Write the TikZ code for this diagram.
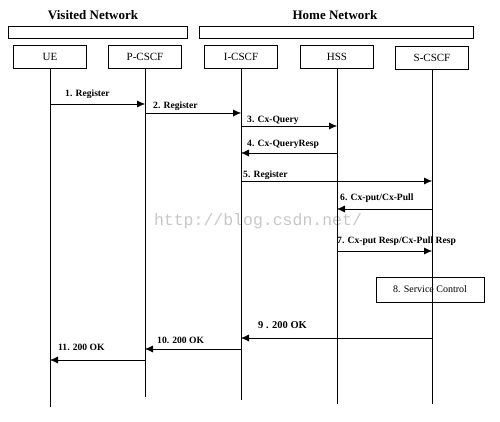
\documentclass[tikz,border=0pt]{standalone}
\usepackage{fontspec}
\setmainfont{Liberation Serif}
\setmonofont{Liberation Mono}
\usetikzlibrary{arrows.meta}
\tikzset{
  entity/.style={draw,thin,minimum width=73pt,minimum height=23pt,inner sep=0pt,font=\fontsize{11}{12}\selectfont},
  netbar/.style={draw,thin},
  life/.style={thin},
  msg/.style={thin,-{Latex[length=8pt,width=7pt]}},
  lbl/.style={anchor=west,inner sep=0pt,font=\bfseries\fontsize{9.6}{10}\selectfont}
}
\begin{document}
\begin{tikzpicture}[x=1pt,y=-1pt]
    \useasboundingbox (0,0) rectangle (500,421);

    % networks
    \node[font=\bfseries\fontsize{13}{14}\selectfont] (visited) at (93,15) {Visited Network};
    \node[font=\bfseries\fontsize{13}{14}\selectfont] (home) at (335,15) {Home Network};
    \draw[netbar] (8,26) rectangle (187,38);
    \draw[netbar] (199,26) rectangle (473,38);

    % entities
    \node[entity] (ue) at (50,56.5) {UE};
    \node[entity] (pcscf) at (145,56.5) {P-CSCF};
    \node[entity] (icscf) at (241,56.5) {I-CSCF};
    \node[entity] (hss) at (337,56.5) {HSS};
    \node[entity] (scscf) at (432,58) {S-CSCF};

%   \foreach \i in {0,...,420} {
%       \draw [very thin,gray] (0,\i) -- (500,\i) ;
%   }
    \node[font=\ttfamily\fontsize{16.5}{17}\selectfont,text=black!22] (wm) at (258,221) {http://blog.csdn.net/};

    % lifelines
    \foreach \e/\yEnd in {ue/407,pcscf/397,icscf/400,hss/404,scscf/404} {
        \draw [life] (\e.south) -- (\e.south |- 0,\yEnd) ;
        }

    \node[draw,thin,minimum width=108pt,minimum height=25pt,inner sep=0pt,font=\fontsize{10}{11}\selectfont] (svc) at (430,289.5) {8. Service Control};

    % messages
    \draw[msg] (ue.south |- 0,104) -- (pcscf.south |- 0,104);
    \draw[msg] (pcscf.south |- 0,113) -- (icscf.south |- 0,113);
    \draw[msg] (icscf.south |- 0,126) -- (hss.south |- 0,126);
    \draw[msg] (hss.south |- 0,153) -- (icscf.south |- 0,153);
    \draw[msg] (icscf.south |- 0,181) -- (scscf.south |- 0,181);
    \draw[msg] (scscf.south |- 0,209) -- (hss.south |- 0,209);
    \draw[msg] (hss.south |- 0,251) -- (scscf.south |- 0,251);
    \draw[msg] (scscf.south |- 0,338) -- (icscf.south |- 0,338);
    \draw[msg] (icscf.south |- 0,349) -- (pcscf.south |- 0,349);
    \draw[msg] (pcscf.south |- 0,360) -- (ue.south |- 0,360);

    \node[lbl] (l1) at (65,94) {1. Register};
    \node[lbl] (l2) at (153,106) {2. Register};
    \node[lbl] (l3) at (247,120) {3. Cx-Query};
    \node[lbl] (l4) at (247,144) {4. Cx-QueryResp};
    \node[lbl] (l5) at (243,175) {5. Register};
    \node[lbl] (l6) at (340,198) {6. Cx-put/Cx-Pull};
    \node[lbl] (l7) at (337,241) {7. Cx-put Resp/Cx-Pull Resp};
    \node[lbl,font=\bfseries\fontsize{10.5}{11}\selectfont] (l9) at (258,325) {9 . 200 OK};
    \node[lbl] (l10) at (157,340) {10. 200 OK};
    \node[lbl] (l11) at (58,347) {11. 200 OK};

\end{tikzpicture}
\end{document}
